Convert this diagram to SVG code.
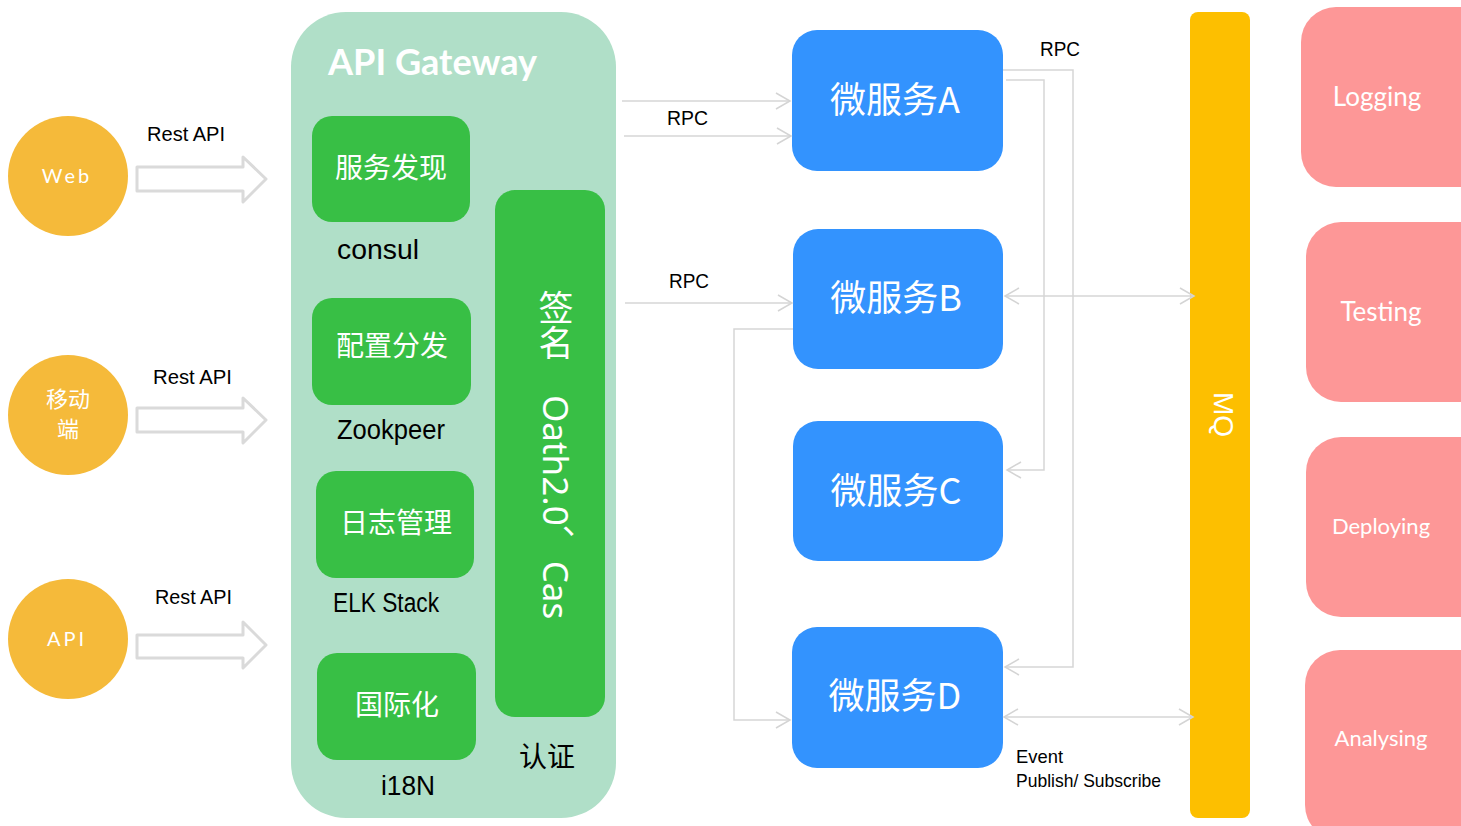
<svg xmlns="http://www.w3.org/2000/svg" width="1461" height="826" viewBox="0 0 1461 826">
<defs>
<marker id="ah" markerUnits="userSpaceOnUse" markerWidth="18" markerHeight="20" viewBox="-1 -10 17 20" refX="14" refY="0" orient="auto-start-reverse">
<path d="M0,-8 L14,0 L0,8" fill="none" stroke="#d4d4d4" stroke-width="1.5"/>
</marker>
<style>
.lbl{font-family:"Liberation Sans",Arial,sans-serif;fill:#000;}
.cjk{font-family:"Noto Sans CJK SC","Noto Sans",sans-serif;fill:#fff;}
.circ{fill:#f5ba3a;}
.blk{fill:#fff;stroke:#dadada;stroke-width:3;stroke-linejoin:round;}
.gbox{fill:#38bf45;}
.ms{fill:#3393fe;}
.pk{fill:#fd9797;}
.conn{fill:none;stroke:#d6d6d6;stroke-width:1.5;}
.lato{font-family:Lato,"Open Sans",sans-serif;fill:#fff;}
</style>
</defs>
<rect width="1461" height="826" fill="#fff"/>

<g id="web">
<circle class="circ" cx="68" cy="176" r="60"/>
<text class="lato" x="67" y="183" font-size="20" text-anchor="middle" letter-spacing="3">Web</text>
</g>
<g id="mobile">
<circle class="circ" cx="68" cy="415" r="60"/>
<text class="cjk" font-size="22" text-anchor="middle"><tspan x="68" y="407">移动</tspan><tspan x="68" y="437">端</tspan></text>
</g>
<g id="api">
<circle class="circ" cx="68" cy="639" r="60"/>
<text class="lato" x="67" y="646" font-size="20" text-anchor="middle" letter-spacing="3">API</text>
</g>

<g id="gateway">
<rect x="291" y="12" width="325" height="806" rx="55" fill="#b0dfc8"/>
<text x="328" y="75" font-family="Lato,'Open Sans',sans-serif" font-weight="bold" font-size="37" fill="#fff" textLength="209" lengthAdjust="spacingAndGlyphs">API Gateway</text>
</g>
<g id="discovery">
<rect class="gbox" x="312" y="116" width="158" height="106" rx="20"/>
<text class="cjk" x="391" y="178" font-size="28" text-anchor="middle">服务发现</text>
<text class="lbl" x="337" y="259" font-size="27" textLength="82" lengthAdjust="spacingAndGlyphs">consul</text>
</g>
<g id="config">
<rect class="gbox" x="312" y="298" width="159" height="107" rx="20"/>
<text class="cjk" x="392" y="356" font-size="28" text-anchor="middle">配置分发</text>
<text class="lbl" x="337" y="439" font-size="27" textLength="108" lengthAdjust="spacingAndGlyphs">Zookpeer</text>
</g>
<g id="logmgmt">
<rect class="gbox" x="316" y="471" width="158" height="107" rx="20"/>
<text class="cjk" x="396" y="533" font-size="28" text-anchor="middle">日志管理</text>
<text class="lbl" x="333" y="612" font-size="27" textLength="106" lengthAdjust="spacingAndGlyphs">ELK Stack</text>
</g>
<g id="i18n">
<rect class="gbox" x="317" y="653" width="159" height="107" rx="20"/>
<text class="cjk" x="397" y="715" font-size="28" text-anchor="middle">国际化</text>
<text class="lbl" x="381" y="795" font-size="27" textLength="54" lengthAdjust="spacingAndGlyphs">i18N</text>
</g>
<g id="auth">
<rect class="gbox" x="495" y="190" width="110" height="527" rx="20"/>
<text class="cjk" x="556" y="290" font-size="35" writing-mode="vertical-rl" style="writing-mode:vertical-rl">签名<tspan y="395" font-family="'Noto Sans','Noto Sans CJK SC',sans-serif">Oath2.0、Cas</tspan></text>
<text x="547" y="767" font-size="28" text-anchor="middle" font-family="'Noto Sans CJK SC',sans-serif" fill="#000">认证</text>
</g>

<g id="msA">
<rect class="ms" x="792" y="30" width="211" height="141" rx="25"/>
<text class="cjk" x="895" y="113" font-size="36" text-anchor="middle">微服务A</text>
</g>
<g id="msB">
<rect class="ms" x="793" y="229" width="210" height="140" rx="25"/>
<text class="cjk" x="896" y="311" font-size="36" text-anchor="middle">微服务B</text>
</g>
<g id="msC">
<rect class="ms" x="793" y="421" width="210" height="140" rx="25"/>
<text class="cjk" x="896" y="504" font-size="36" text-anchor="middle">微服务C</text>
</g>
<g id="msD">
<rect class="ms" x="792" y="627" width="211" height="141" rx="25"/>
<text class="cjk" x="895" y="709" font-size="36" text-anchor="middle">微服务D</text>
</g>

<g id="mq">
<rect x="1190" y="12" width="60" height="806" rx="8" fill="#fdbf00"/>
<text transform="translate(1214,392) rotate(90)" font-family="'Liberation Sans',Arial,sans-serif" font-size="28" fill="#fff">MQ</text>
</g>

<g id="logging">
<rect class="pk" x="1301" y="7" width="200" height="180" rx="35"/>
<text class="lato" x="1377" y="106" font-size="26" text-anchor="middle">Logging</text>
</g>
<g id="testing">
<rect class="pk" x="1306" y="222" width="200" height="180" rx="35"/>
<text class="lato" x="1381" y="321" font-size="26" text-anchor="middle">Testing</text>
</g>
<g id="deploying">
<rect class="pk" x="1306" y="437" width="200" height="180" rx="35"/>
<text class="lato" x="1381" y="534" font-size="22" text-anchor="middle">Deploying</text>
</g>
<g id="analysing">
<rect class="pk" x="1305" y="650" width="200" height="190" rx="35"/>
<text class="lato" x="1381" y="746" font-size="22" text-anchor="middle">Analysing</text>
</g>

<g id="connectors">
<path class="blk" d="M137,167 H243 V157 L266,179 L243,202 V191 H137 Z"/>
<path class="blk" d="M137,408 H243 V398 L266,420 L243,443 V432 H137 Z"/>
<path class="blk" d="M137,635 H243 V622 L266,645 L243,668 V658 H137 Z"/>
<text class="lbl" x="147" y="141" font-size="21" textLength="78" lengthAdjust="spacingAndGlyphs">Rest API</text>
<text class="lbl" x="153" y="384" font-size="21" textLength="79" lengthAdjust="spacingAndGlyphs">Rest API</text>
<text class="lbl" x="155" y="604" font-size="21" textLength="77" lengthAdjust="spacingAndGlyphs">Rest API</text>

<path class="conn" d="M622,101 H790" marker-end="url(#ah)"/>
<path class="conn" d="M624,136 H791" marker-end="url(#ah)"/>
<path class="conn" d="M625,303 H792" marker-end="url(#ah)"/>
<path class="conn" d="M793,329 H734 V720 H790" marker-end="url(#ah)"/>
<path class="conn" d="M1003,70 H1073 V667 H1005" marker-end="url(#ah)"/>
<path class="conn" d="M1006,80 H1044 V470 H1007" marker-end="url(#ah)"/>
<path class="conn" d="M1005,296 H1194" marker-start="url(#ah)" marker-end="url(#ah)"/>
<path class="conn" d="M1004,717 H1193" marker-start="url(#ah)" marker-end="url(#ah)"/>

<text class="lbl" x="667" y="125" font-size="21" textLength="41" lengthAdjust="spacingAndGlyphs">RPC</text>
<text class="lbl" x="669" y="288" font-size="21" textLength="40" lengthAdjust="spacingAndGlyphs">RPC</text>
<text class="lbl" x="1040" y="56" font-size="21" textLength="40" lengthAdjust="spacingAndGlyphs">RPC</text>
<text class="lbl" x="1016" y="763" font-size="19" textLength="47" lengthAdjust="spacingAndGlyphs">Event</text>
<text class="lbl" x="1016" y="787" font-size="19" textLength="145" lengthAdjust="spacingAndGlyphs">Publish/ Subscribe</text>
</g>
</svg>
